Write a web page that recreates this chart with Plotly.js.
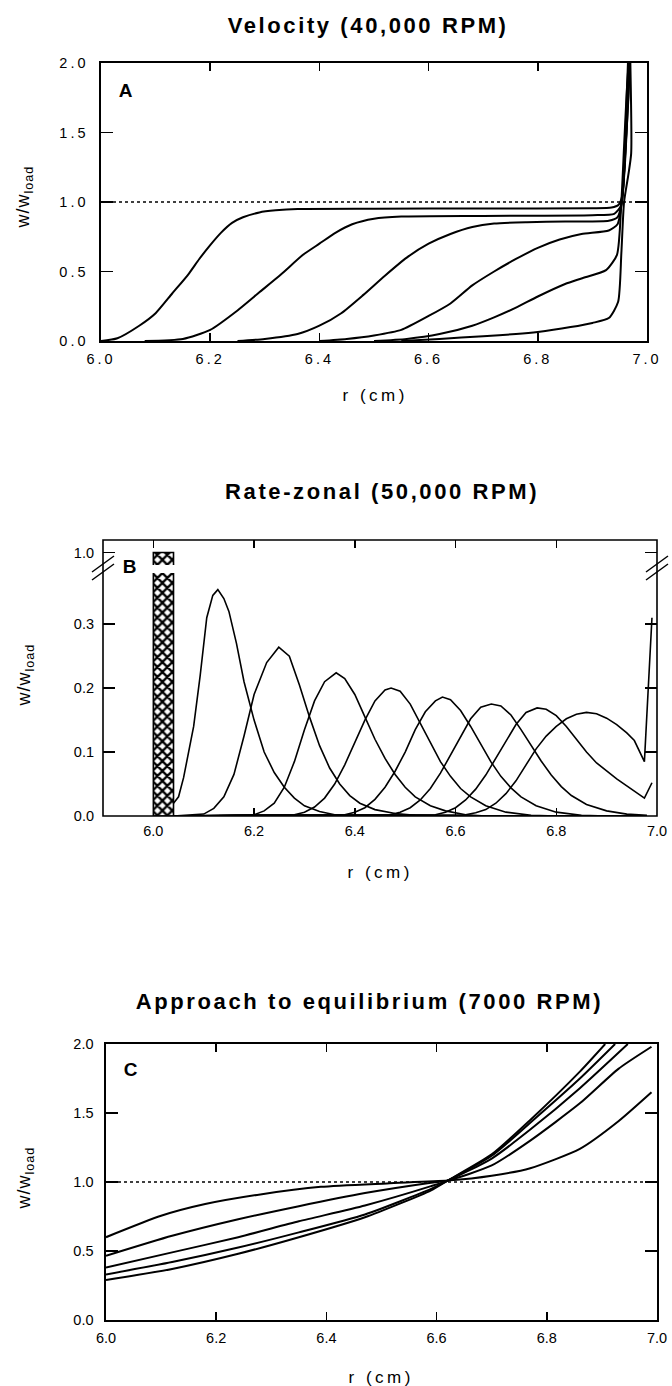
<!DOCTYPE html>
<html>
<head>
<meta charset="utf-8">
<script src="https://cdn.plot.ly/plotly-3.0.1.min.js"></script>
<style>
  html, body { margin: 0; padding: 0; background: #fff; }
  #chart { width: 672px; height: 1386px; }
  /* wide tracking of the printed lettering */
  #chart .annotation text { letter-spacing: 2.6px; }
  #chart .annotation[data-index="6"] text,
  #chart .annotation[data-index="7"] text,
  #chart .annotation[data-index="8"] text { letter-spacing: 1px; }
  #chart .annotation[data-index="9"] text,
  #chart .annotation[data-index="10"] text,
  #chart .annotation[data-index="11"] text { letter-spacing: 3.5px; }
  #chart .xtick text, #chart .ytick text { letter-spacing: 3px; }
</style>
</head>
<body>
<div id="chart"></div>
<script>
// ---------- Panel A: velocity sedimentation, 40,000 RPM ----------
const velR1 = [6.00, 6.03, 6.07, 6.10, 6.13, 6.16, 6.18, 6.20, 6.22, 6.24, 6.26, 6.29, 6.32, 6.36, 6.50, 6.70, 6.90, 6.935, 6.948, 6.955, 6.961, 6.966];
const velW1 = [0.00, 0.02, 0.11, 0.20, 0.34, 0.48, 0.59, 0.69, 0.78, 0.85, 0.89, 0.925, 0.94, 0.95, 0.952, 0.953, 0.955, 0.96, 0.98, 1.05, 1.55, 2.10];
const velR2 = [6.08, 6.15, 6.20, 6.25, 6.29, 6.33, 6.37, 6.40, 6.43, 6.46, 6.50, 6.55, 6.70, 6.90, 6.94, 6.952, 6.958, 6.963, 6.967];
const velW2 = [0.00, 0.015, 0.08, 0.22, 0.35, 0.48, 0.62, 0.70, 0.78, 0.84, 0.88, 0.895, 0.90, 0.905, 0.915, 0.97, 1.20, 1.60, 2.10];
const velR3 = [6.25, 6.30, 6.36, 6.40, 6.44, 6.48, 6.52, 6.56, 6.60, 6.64, 6.68, 6.72, 6.78, 6.85, 6.93, 6.946, 6.954, 6.960, 6.965, 6.969];
const velW3 = [0.00, 0.015, 0.05, 0.11, 0.20, 0.33, 0.47, 0.60, 0.70, 0.77, 0.82, 0.845, 0.855, 0.86, 0.865, 0.89, 1.00, 1.30, 1.70, 2.10];
const velR4 = [6.40, 6.45, 6.50, 6.55, 6.60, 6.64, 6.68, 6.72, 6.76, 6.80, 6.84, 6.88, 6.93, 6.946, 6.954, 6.960, 6.966, 6.970];
const velW4 = [0.00, 0.015, 0.04, 0.08, 0.18, 0.27, 0.40, 0.50, 0.59, 0.67, 0.73, 0.77, 0.795, 0.84, 1.00, 1.35, 1.75, 2.10];
const velR5 = [6.50, 6.56, 6.62, 6.68, 6.72, 6.76, 6.80, 6.85, 6.88, 6.925, 6.945, 6.953, 6.958, 6.963, 6.968];
const velW5 = [0.00, 0.015, 0.05, 0.11, 0.17, 0.24, 0.32, 0.41, 0.45, 0.51, 0.62, 1.00, 1.40, 1.80, 2.10];
const velR6 = [6.55, 6.62, 6.70, 6.76, 6.80, 6.86, 6.90, 6.93, 6.947, 6.953, 6.958, 6.966, 6.971, 6.969];
const velW6 = [0.00, 0.015, 0.035, 0.05, 0.065, 0.10, 0.13, 0.165, 0.28, 0.63, 1.00, 1.20, 1.35, 2.10];

// ---------- Panel B: rate-zonal, 50,000 RPM ----------
const loadBand = [6.00, 6.04];   // radial extent of the loaded lamella
const loadLevel = 1.0;
const zonR1 = [6.040, 6.050, 6.060, 6.080, 6.093, 6.106, 6.118, 6.128, 6.140, 6.150, 6.165, 6.180, 6.200, 6.220, 6.240, 6.260, 6.280, 6.300, 6.330, 6.360, 6.400, 6.980];
const zonW1 = [0.020, 0.030, 0.060, 0.140, 0.220, 0.310, 0.345, 0.354, 0.340, 0.320, 0.270, 0.210, 0.150, 0.100, 0.068, 0.045, 0.028, 0.016, 0.007, 0.002, 0.000, 0.000];
const zonR2 = [6.04, 6.10, 6.12, 6.14, 6.16, 6.18, 6.20, 6.225, 6.249, 6.27, 6.29, 6.31, 6.33, 6.35, 6.37, 6.39, 6.41, 6.44, 6.48, 6.52, 6.56, 6.98];
const zonW2 = [0.000, 0.003, 0.012, 0.030, 0.065, 0.125, 0.190, 0.240, 0.264, 0.250, 0.205, 0.155, 0.110, 0.075, 0.050, 0.032, 0.020, 0.010, 0.004, 0.001, 0.000, 0.000];
const zonR3 = [6.04, 6.20, 6.22, 6.24, 6.26, 6.28, 6.30, 6.32, 6.34, 6.363, 6.38, 6.40, 6.42, 6.44, 6.46, 6.48, 6.50, 6.52, 6.55, 6.58, 6.62, 6.66, 6.98];
const zonW3 = [0.000, 0.002, 0.008, 0.020, 0.045, 0.085, 0.135, 0.180, 0.210, 0.224, 0.215, 0.190, 0.155, 0.120, 0.090, 0.065, 0.045, 0.030, 0.016, 0.008, 0.002, 0.000, 0.000];
const zonR4 = [6.04, 6.28, 6.30, 6.32, 6.34, 6.36, 6.38, 6.40, 6.42, 6.44, 6.46, 6.472, 6.49, 6.51, 6.53, 6.55, 6.57, 6.59, 6.61, 6.63, 6.66, 6.70, 6.75, 6.80, 6.98];
const zonW4 = [0.000, 0.002, 0.006, 0.014, 0.028, 0.050, 0.080, 0.115, 0.150, 0.180, 0.197, 0.200, 0.195, 0.175, 0.145, 0.115, 0.085, 0.062, 0.043, 0.030, 0.016, 0.006, 0.001, 0.000, 0.000];
const zonR5 = [6.04, 6.38, 6.40, 6.42, 6.44, 6.46, 6.48, 6.50, 6.52, 6.54, 6.56, 6.574, 6.59, 6.61, 6.63, 6.65, 6.67, 6.69, 6.71, 6.73, 6.76, 6.80, 6.85, 6.90, 6.98];
const zonW5 = [0.000, 0.002, 0.006, 0.013, 0.026, 0.045, 0.070, 0.100, 0.135, 0.163, 0.180, 0.186, 0.182, 0.165, 0.140, 0.112, 0.085, 0.062, 0.044, 0.030, 0.016, 0.006, 0.001, 0.000, 0.000];
const zonR6 = [6.04, 6.47, 6.49, 6.51, 6.53, 6.55, 6.57, 6.59, 6.61, 6.63, 6.65, 6.671, 6.69, 6.71, 6.73, 6.75, 6.77, 6.79, 6.81, 6.83, 6.86, 6.90, 6.94, 6.98];
const zonW6 = [0.000, 0.002, 0.006, 0.013, 0.025, 0.043, 0.067, 0.095, 0.125, 0.152, 0.170, 0.175, 0.172, 0.158, 0.135, 0.110, 0.086, 0.064, 0.046, 0.032, 0.018, 0.008, 0.003, 0.001];
const zonR7 = [6.04, 6.56, 6.58, 6.60, 6.62, 6.64, 6.66, 6.68, 6.70, 6.72, 6.74, 6.762, 6.78, 6.80, 6.82, 6.84, 6.86, 6.88, 6.90, 6.92, 6.94, 6.96, 6.975, 6.99];
const zonW7 = [0.000, 0.002, 0.006, 0.013, 0.025, 0.042, 0.064, 0.090, 0.118, 0.143, 0.162, 0.169, 0.167, 0.157, 0.140, 0.120, 0.100, 0.083, 0.070, 0.058, 0.047, 0.036, 0.028, 0.052];
const zonR8 = [6.04, 6.62, 6.64, 6.66, 6.68, 6.70, 6.72, 6.74, 6.76, 6.78, 6.80, 6.82, 6.84, 6.86, 6.88, 6.90, 6.92, 6.94, 6.955, 6.975, 6.99];
const zonW8 = [0.000, 0.002, 0.005, 0.010, 0.020, 0.035, 0.055, 0.080, 0.105, 0.125, 0.140, 0.152, 0.159, 0.162, 0.160, 0.153, 0.143, 0.130, 0.118, 0.085, 0.310];

// ---------- Panel C: approach to equilibrium, 7000 RPM ----------
const eqR1 = [6.00, 6.10, 6.18, 6.28, 6.39, 6.51, 6.62, 6.70, 6.77, 6.86, 6.93, 6.99];
const eqW1 = [0.60, 0.755, 0.84, 0.91, 0.965, 0.99, 1.01, 1.045, 1.10, 1.24, 1.44, 1.65];
const eqR2 = [6.00, 6.12, 6.24, 6.35, 6.47, 6.59, 6.62, 6.70, 6.77, 6.86, 6.93, 6.99];
const eqW2 = [0.465, 0.61, 0.73, 0.825, 0.92, 0.995, 1.01, 1.12, 1.30, 1.57, 1.82, 1.98];
const eqR3 = [6.00, 6.12, 6.24, 6.35, 6.47, 6.59, 6.62, 6.70, 6.77, 6.86, 6.947];
const eqW3 = [0.38, 0.49, 0.60, 0.715, 0.83, 0.97, 1.01, 1.17, 1.38, 1.68, 2.00];
const eqR4 = [6.00, 6.12, 6.24, 6.35, 6.47, 6.59, 6.62, 6.70, 6.77, 6.86, 6.924];
const eqW4 = [0.33, 0.42, 0.525, 0.635, 0.765, 0.95, 1.01, 1.19, 1.43, 1.75, 2.00];
const eqR5 = [6.00, 6.12, 6.24, 6.35, 6.47, 6.59, 6.62, 6.70, 6.77, 6.86, 6.906];
const eqW5 = [0.29, 0.37, 0.48, 0.60, 0.745, 0.94, 1.01, 1.20, 1.45, 1.80, 2.00];

// ---------- axes ----------
const rTicks = [6.0, 6.2, 6.4, 6.6, 6.8, 7.0];
const wTicksAC = [0.0, 0.5, 1.0, 1.5, 2.0];
const wTicksBLow = [0.0, 0.1, 0.2, 0.3];
const wTicksBHigh = [1.0];
const refLevel = [1.0, 1.0];
const refSpan = [6.0, 7.0];

const titles = ['Velocity (40,000 RPM)', 'Rate-zonal (50,000 RPM)', 'Approach to equilibrium (7000 RPM)'];
const letters = ['A', 'B', 'C'];
const yTitle = 'w/w<sub>load</sub>';
const xTitle = 'r (cm)';

// ---------- page geometry (pixels on a 672 x 1386 canvas) ----------
const W = 672, H = 1386;
const fx = v => v / W;
const fy = v => 1 - v / H;
const FONT = '"Liberation Sans", Arial, Helvetica, sans-serif';

const curve = (x, y, xa, ya, width, smooth) => ({
  type: 'scatter', mode: 'lines', x: x, y: y, xaxis: xa, yaxis: ya,
  line: smooth ? { color: '#000', width: width, shape: 'spline', smoothing: 0.6 }
               : { color: '#000', width: width },
  hoverinfo: 'skip'
});
const dotted = (xa, ya) => ({
  type: 'scatter', mode: 'lines', x: refSpan, y: refLevel, xaxis: xa, yaxis: ya,
  line: { color: '#000', width: 1.4, dash: 'dot' }, hoverinfo: 'skip'
});
const hatchBar = (xa, ya) => ({
  type: 'bar', x: [(loadBand[0] + loadBand[1]) / 2], y: [loadLevel],
  width: [loadBand[1] - loadBand[0]], xaxis: xa, yaxis: ya,
  marker: {
    color: '#fff', line: { color: '#000', width: 1.6 },
    pattern: { shape: 'x', fgcolor: '#000', bgcolor: '#fff', size: 7, solidity: 0.55 }
  },
  hoverinfo: 'skip'
});

const data = [
  dotted('x', 'y'),
  curve(velR1, velW1, 'x', 'y', 2, true), curve(velR2, velW2, 'x', 'y', 2, true),
  curve(velR3, velW3, 'x', 'y', 2, true), curve(velR4, velW4, 'x', 'y', 2, true),
  curve(velR5, velW5, 'x', 'y', 2, true), curve(velR6, velW6, 'x', 'y', 2, true),

  hatchBar('x2', 'y2'), hatchBar('x4', 'y4'),
  curve(zonR1, zonW1, 'x2', 'y2', 1.6), curve(zonR2, zonW2, 'x2', 'y2', 1.6),
  curve(zonR3, zonW3, 'x2', 'y2', 1.6), curve(zonR4, zonW4, 'x2', 'y2', 1.6),
  curve(zonR5, zonW5, 'x2', 'y2', 1.6), curve(zonR6, zonW6, 'x2', 'y2', 1.6),
  curve(zonR7, zonW7, 'x2', 'y2', 1.6), curve(zonR8, zonW8, 'x2', 'y2', 1.6),

  dotted('x3', 'y3'),
  curve(eqR1, eqW1, 'x3', 'y3', 2, true), curve(eqR2, eqW2, 'x3', 'y3', 2, true),
  curve(eqR3, eqW3, 'x3', 'y3', 2, true), curve(eqR4, eqW4, 'x3', 'y3', 2, true),
  curve(eqR5, eqW5, 'x3', 'y3', 2, true)
];

const base = {
  showgrid: false, zeroline: false, fixedrange: true,
  ticks: 'inside', tickwidth: 1.5, tickcolor: '#000',
  showline: true, linecolor: '#000', linewidth: 1.6, mirror: 'ticks',
  tickfont: { family: FONT, size: 14.5, color: '#000' }, tickformat: '.1f'
};
const xBase = Object.assign({}, base, { ticklen: 8, tickvals: rTicks, ticklabelstandoff: 4 });
const yBase = Object.assign({}, base, { ticklen: 12, ticklabelstandoff: 8 });

// panel boxes (px): A 101-647 x 63-341, B 103-657 x 540-816, C 106-657 x 1044-1320
const layout = {
  width: W, height: H, margin: { l: 0, r: 0, t: 0, b: 0 },
  paper_bgcolor: '#fff', plot_bgcolor: '#fff', showlegend: false,
  font: { family: FONT, color: '#000', size: 14 },

  xaxis: Object.assign({}, xBase, { domain: [fx(101), fx(647)], range: [6, 7], anchor: 'y' }),
  yaxis: Object.assign({}, yBase, { domain: [fy(341), fy(63)], range: [0, 2], tickvals: wTicksAC, anchor: 'x' }),

  xaxis2: Object.assign({}, xBase, { domain: [fx(103), fx(657)], range: [5.9, 7.0], anchor: 'y2', showline: false, mirror: false }),
  yaxis2: Object.assign({}, yBase, { domain: [fy(816), fy(573)], range: [0, 0.38], tickvals: wTicksBLow, anchor: 'x2', showline: false }),
  xaxis4: Object.assign({}, xBase, { domain: [fx(103), fx(657)], range: [5.9, 7.0], anchor: 'y4', side: 'top', matches: 'x2', showticklabels: false, showline: false, mirror: false }),
  yaxis4: Object.assign({}, yBase, { domain: [fy(565), fy(540)], range: [0.98, 1.02], tickvals: wTicksBHigh, anchor: 'x4', showline: false }),

  xaxis3: Object.assign({}, xBase, { domain: [fx(106), fx(657)], range: [6, 7], anchor: 'y3' }),
  yaxis3: Object.assign({}, yBase, { domain: [fy(1320), fy(1044)], range: [0, 2], tickvals: wTicksAC, anchor: 'x3' }),

  shapes: [
    // continuous frame of the broken-axis panel
    { type: 'rect', xref: 'paper', yref: 'paper', x0: fx(103), x1: fx(657), y0: fy(816), y1: fy(540),
      line: { color: '#000', width: 1.6 }, layer: 'above' },
    // axis-break marks, left and right
    ...[103, 657].flatMap(cx => [564, 572].map(cy => ({
      type: 'line', xref: 'paper', yref: 'paper',
      x0: fx(cx - 11), y0: fy(cy + 8), x1: fx(cx + 11), y1: fy(cy - 8),
      line: { color: '#000', width: 1.4 }, layer: 'above'
    })))
  ],

  annotations: [
    // 0-2 panel titles
    ...[[368, 25], [382, 492], [369, 1002]].map((p, i) => ({
      text: titles[i], xref: 'paper', yref: 'paper', x: fx(p[0]), y: fy(p[1]),
      xanchor: 'center', yanchor: 'middle', showarrow: false,
      font: { family: FONT, size: 22, color: '#000', weight: 'bold' }
    })),
    // 3-5 panel letters
    ...[[127, 90], [131, 566], [132, 1069]].map((p, i) => ({
      text: letters[i], xref: 'paper', yref: 'paper', x: fx(p[0]), y: fy(p[1]),
      xanchor: 'center', yanchor: 'middle', showarrow: false,
      font: { family: FONT, size: 19, color: '#000', weight: 'bold' }
    })),
    // 6-8 y-axis titles
    ...[197, 675, 1178].map(cy => ({
      text: yTitle, xref: 'paper', yref: 'paper', x: fx(25), y: fy(cy),
      xanchor: 'center', yanchor: 'middle', textangle: -90, showarrow: false,
      font: { family: FONT, size: 18, color: '#000' }
    })),
    // 9-11 x-axis titles
    ...[[375, 395], [380, 872], [381, 1377]].map(p => ({
      text: xTitle, xref: 'paper', yref: 'paper', x: fx(p[0]), y: fy(p[1]),
      xanchor: 'center', yanchor: 'middle', showarrow: false,
      font: { family: FONT, size: 17, color: '#000' }
    }))
  ]
};

Plotly.newPlot('chart', data, layout, { staticPlot: true, displayModeBar: false });
</script>
</body>
</html>
